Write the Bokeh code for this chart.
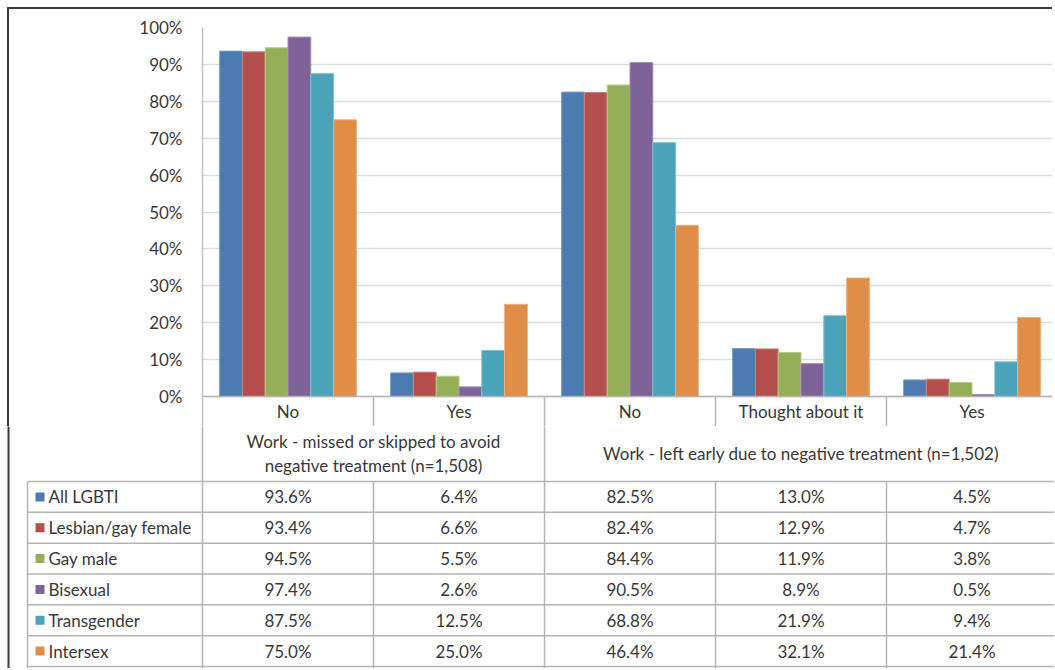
from bokeh.plotting import figure
from bokeh.models import Range1d, FixedTicker, ColumnDataSource, CustomJSTickFormatter
from bokeh.core.properties import value
from bokeh.embed import file_html
from bokeh.resources import INLINE

# ---------------- data ----------------
categories = ["No", "Yes", "No", "Thought about it", "Yes"]
group_labels = ["Work - missed or skipped to avoid\nnegative treatment (n=1,508)",
                "Work - left early due to negative treatment (n=1,502)"]
group_sizes = [2, 3]
series_names = ["All LGBTI", "Lesbian/gay female", "Gay male", "Bisexual", "Transgender", "Intersex"]
all_lgbti = [93.6, 6.4, 82.5, 13.0, 4.5]
lesbian_gay_female = [93.4, 6.6, 82.4, 12.9, 4.7]
gay_male = [94.5, 5.5, 84.4, 11.9, 3.8]
bisexual = [97.4, 2.6, 90.5, 8.9, 0.5]
transgender = [87.5, 12.5, 68.8, 21.9, 9.4]
intersex = [75.0, 25.0, 46.4, 32.1, 21.4]
series_values = [all_lgbti, lesbian_gay_female, gay_male, bisexual, transgender, intersex]
y_ticks = [0, 10, 20, 30, 40, 50, 60, 70, 80, 90, 100]

# ---------------- style ----------------
colors = ["#4B7BB0", "#B54F4D", "#95AE58", "#7E6399", "#4AA3B9", "#E08D48"]
edge_colors = ["#7A9FC8", "#CC807E", "#B5C988", "#A08BB6", "#80C0D0", "#EDB080"]
FONT = "Lato"
FS = "17px"
TXT = "#383838"
GRID = "#DCDCDC"
TLINE = "#B4B4B4"
BORDER = "#3C3C3C"

PAGE_W = 1054
OFF = 7             # outer margin of the framed box
BW = 2              # outer border width
CAN_L = OFF + BW    # page x of top canvas
CAN_T = OFF + BW    # page y of top canvas
AX_X = 202          # page x of y-axis
CAT_W = 171.0       # px per category
TOP_FRAME = 27      # page y of 100%
ZERO_Y = 396        # page y of 0%
CAT_ROW_B = 428     # bottom of category-label row
DATA_TOP = 483
BOT_END = 669
PX_PER_PCT = (ZERO_Y - TOP_FRAME) / 100.0

x_end = (PAGE_W - AX_X) / CAT_W
y_start = -(CAT_ROW_B - ZERO_Y) / PX_PER_PCT

def YT(page_y):
    return (ZERO_Y - page_y) / PX_PER_PCT

# ---------------- chart (+ category row) ----------------
p = figure(width=PAGE_W - CAN_L, height=CAT_ROW_B - CAN_T, output_backend="svg", toolbar_location=None,
           x_range=Range1d(0, x_end), y_range=Range1d(y_start, 100),
           min_border_left=AX_X - CAN_L, min_border_top=TOP_FRAME - CAN_T,
           min_border_right=0, min_border_bottom=0,
           styles={"margin-left": f"{OFF}px", "margin-top": f"{OFF}px",
                   "border-left": f"{BW}px solid {BORDER}", "border-top": f"{BW}px solid {BORDER}"})
p.xaxis.visible = False
p.xgrid.visible = False
p.outline_line_color = None
p.background_fill_color = "white"
p.border_fill_color = "white"

p.yaxis.ticker = FixedTicker(ticks=y_ticks)
p.yaxis.formatter = CustomJSTickFormatter(code="return tick.toFixed(0) + '%';")
p.yaxis.bounds = (y_start, 100)
p.yaxis.major_tick_line_color = None
p.yaxis.minor_tick_line_color = None
p.yaxis.axis_line_color = "#C0C0C0"
p.yaxis.axis_line_width = 1.5
p.yaxis.major_label_text_font = FONT
p.yaxis.major_label_text_font_size = FS
p.yaxis.major_label_text_color = TXT
p.yaxis.major_label_standoff = 14
p.ygrid.grid_line_color = GRID
p.ygrid.grid_line_width = 1.5

n = len(series_names)
bar_w = 0.8 / n
xs_center = [i + 0.5 for i in range(len(categories))]
for k, (name, vals) in enumerate(zip(series_names, series_values)):
    off = -0.4 + bar_w * (k + 0.5)
    src = ColumnDataSource(dict(x=[c + off for c in xs_center], top=vals))
    p.vbar(x="x", top="top", bottom=0, width=bar_w, source=src,
           fill_color=colors[k], line_color=edge_colors[k], line_width=1)

# category row: top line, dividers, labels
p.segment(x0=[0], y0=[0], x1=[x_end], y1=[0], line_color=TLINE, line_width=1.5)
dividers = list(range(1, len(categories)))
p.segment(x0=dividers, y0=[0] * len(dividers), x1=dividers, y1=[y_start] * len(dividers),
          line_color=TLINE, line_width=1.5)
p.text(x=xs_center, y=[YT(411)] * len(categories), text=categories,
       text_align="center", text_baseline="middle", text_font=value(FONT),
       text_font_size=FS, text_color=TXT)

# ---------------- group labels + data table ----------------
BOT_H = BOT_END - CAT_ROW_B + 1
q_x_start = (0 - AX_X) / CAT_W
q = figure(width=PAGE_W, height=BOT_H, output_backend="svg", toolbar_location=None,
           x_range=Range1d(q_x_start, x_end), y_range=Range1d(BOT_H, 0),
           min_border=0)
q.axis.visible = False
q.grid.visible = False
q.outline_line_color = None
q.background_fill_color = "white"
q.border_fill_color = "white"

def Y(page_y):
    return page_y - CAT_ROW_B

def X(page_x):
    return (page_x - AX_X) / CAT_W

ROW_H = (668 - DATA_TOP) / len(series_names)
TABLE_L = X(27)

# outer left border continues
q.segment(x0=[X(OFF + BW / 2)], y0=[Y(CAT_ROW_B) - 1], x1=[X(OFF + BW / 2)], y1=[Y(BOT_END + 1)],
          line_color=BORDER, line_width=BW)
# group boundaries (through group-label row)
bounds = [0]
for s in group_sizes:
    bounds.append(bounds[-1] + s)
q.segment(x0=bounds[:-1], y0=[Y(CAT_ROW_B) - 1] * (len(bounds) - 1), x1=bounds[:-1],
          y1=[Y(DATA_TOP)] * (len(bounds) - 1), line_color=TLINE, line_width=1.5)
# data rows
row_lines_y = [Y(DATA_TOP + ROW_H * r) for r in range(len(series_names) + 1)]
q.segment(x0=[TABLE_L] * len(row_lines_y), y0=row_lines_y, x1=[x_end] * len(row_lines_y),
          y1=row_lines_y, line_color=TLINE, line_width=1.5)
vcols = [TABLE_L] + list(range(len(categories)))
q.segment(x0=vcols, y0=[Y(DATA_TOP)] * len(vcols), x1=vcols, y1=[Y(BOT_END + 1)] * len(vcols),
          line_color=TLINE, line_width=1.5)

# group labels
gc = [(bounds[i] + bounds[i + 1]) / 2 for i in range(len(group_sizes))]
q.text(x=gc, y=[Y(455)] * len(gc), text=group_labels,
       text_align="center", text_baseline="middle", text_font=value(FONT),
       text_font_size=FS, text_color=TXT, text_line_height=1.16)

# row labels + legend swatches
row_c = [Y(DATA_TOP + ROW_H * (r + 0.5)) for r in range(len(series_names))]
q.scatter(x=[X(39.5)] * len(series_names), y=row_c, marker="square", size=9,
          fill_color=colors, line_color=None)
q.text(x=[X(48)] * len(series_names), y=row_c, text=series_names,
       text_align="left", text_baseline="middle", text_font=value(FONT),
       text_font_size=FS, text_color=TXT)
# values
vx, vy, vt = [], [], []
for r, vals in enumerate(series_values):
    for c, v in enumerate(vals):
        vx.append(xs_center[c])
        vy.append(row_c[r])
        vt.append(f"{v:.1f}%")
q.text(x=vx, y=vy, text=vt, text_align="center", text_baseline="middle",
       text_font=value(FONT), text_font_size=FS, text_color=TXT)

open("out.html", "w").write(file_html([p, q], INLINE))
